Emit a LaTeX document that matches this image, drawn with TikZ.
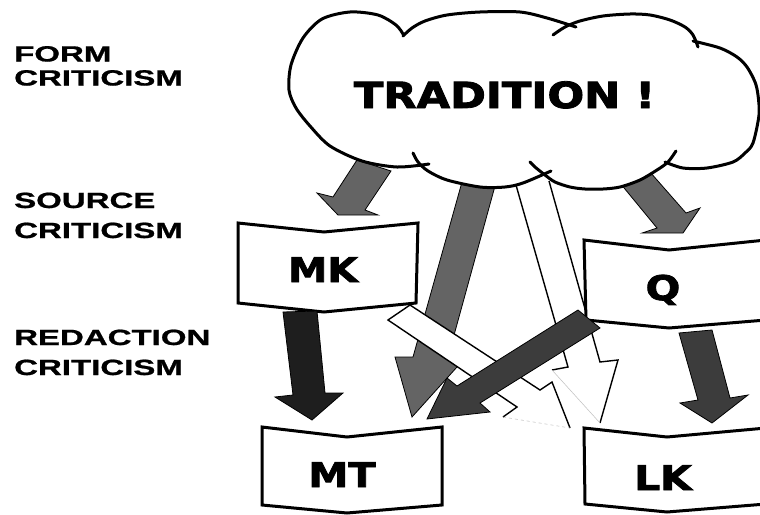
\documentclass[tikz,border=0pt]{standalone}
\usepackage{fontspec}
\usepackage{graphicx}
\newfontfamily\bigfont{DejaVu Sans Bold}[FakeBold=2.2]
\newfontfamily\labfont{Liberation Sans Bold}[FakeBold=0.8]
\definecolor{arrgray}{HTML}{646464}
\definecolor{arrdark}{HTML}{3C3C3C}
\definecolor{arrblack}{HTML}{1E1E1E}
\tikzset{
  cloudline/.style={line width=3pt, line cap=round, line join=round},
  boxline/.style={draw=black, fill=white, line width=3pt, line join=miter},
  grayarrow/.style={fill=arrgray, draw=black, line width=0.8pt, line join=miter},
  darkarrow/.style={fill=arrdark, draw=black, line width=0.8pt, line join=miter},
  blackarrow/.style={fill=arrblack, draw=black, line width=0.8pt, line join=miter},
  whitearrow/.style={fill=white, draw=black, line width=1.4pt, line join=miter},
  faintedge/.style={draw=black!25, line width=0.5pt},
  bigtext/.style={inner sep=0pt, anchor=base, font=\bigfont\fontsize{34}{40}\selectfont},
  titletext/.style={inner sep=0pt, anchor=base, font=\bigfont\fontsize{36}{42}\selectfont},
  labtext/.style={inner sep=0pt, anchor=base west, font=\labfont\fontsize{22}{26}\selectfont}
}
\begin{document}
\begin{tikzpicture}[x=1pt,y=-1pt]
\useasboundingbox (0,0) rectangle (760,514);
\clip (0,0) rectangle (760,514);
\fill[white] (0,0) rectangle (760,514);

% arrows leaving the cloud (drawn first, tops hidden by cloud)
\draw[grayarrow] (357,160) -- (391,171) -- (365,210) -- (378,215) -- (338,215) -- (317,193) -- (333,197) -- cycle;
\draw[grayarrow] (620,183) -- (650,172) -- (686,213) -- (700,208) -- (683,233) -- (642,233) -- (657,228) -- cycle;
\draw[grayarrow] (462,182) -- (495,186) -- (448,357) -- (466,357) -- (412,417) -- (395,357) -- (413,357) -- cycle;
% long white arrow cloud -> LK
\fill[white] (516,185) -- (549,181) -- (600,362) -- (618,360) -- (600,423) -- (552,370) -- (568,367) -- cycle;
\draw[whitearrow, fill=none] (600,423) -- (618,360) -- (600,362) -- (549,181);
\draw[whitearrow, fill=none] (516,185) -- (568,367) -- (552,370);
\draw[faintedge] (552,370) -- (600,423);

% cloud
\fill[white] plot[smooth cycle] coordinates {(403,34) (425,21) (447,15) (480,12) (520,12) (547,18) (570,24) (603,16) (630,14) (650,15) (670,20) (685,27) (695,40) (720,48) (747,67) (758,95) (759,115) (753,143) (733,162) (707,168) (683,168) (665,166) (640,180) (603,189) (570,187) (547,177) (523,183) (480,187) (447,180) (424,166) (397,167) (362,161) (330,146) (310,126) (296,108) (289,90) (291,65) (303,38) (322,19) (350,12) (378,15)};
\draw[cloudline] plot[smooth] coordinates {(403,34) (396,25) (378,15) (350,12) (322,19) (303,38) (291,65) (289,90) (296,108) (310,126) (330,146) (362,161) (397,167) (429,164)};
\draw[cloudline] plot[smooth] coordinates {(403,36) (412,28) (425,21) (447,15) (480,12) (520,12) (547,18) (576,27)};
\draw[cloudline] plot[smooth] coordinates {(553,35) (565,27) (580,21) (603,16) (630,14) (650,15) (670,20) (685,27) (693,35) (698,47)};
\draw[cloudline] plot[smooth] coordinates {(693,41) (720,48) (737,57) (747,67) (755,82) (758,95) (759,115) (753,143) (745,153) (733,162) (707,168) (683,168) (665,162)};
\draw[cloudline] plot[smooth] coordinates {(676,151) (668,162) (657,170) (640,180) (620,187) (603,189) (585,189) (570,187) (555,182) (545,175) (535,167) (530,162)};
\draw[cloudline] plot[smooth] coordinates {(413,153) (418,162) (428,171) (447,180) (480,187) (505,187) (523,183) (551,171)};
\node[titletext] (trad) at (504.5,108) {\scalebox{1.2}[1]{TRADITION !}};

% boxes
\draw[boxline] (238,223) -- (324,232) -- (418,223) -- (416,303) -- (324,312) -- (238,303) -- cycle;
\node[bigtext] (mk) at (323,282) {\scalebox{1.16}[1]{MK}};
\draw[boxline] (584,240) -- (669,250) -- (766,240) -- (766,320) -- (669,328) -- (586,320) -- cycle;
\node[bigtext] (q) at (663,300) {\scalebox{1.2}[1]{Q}};
\draw[boxline] (262,427) -- (347,437) -- (442,427) -- (442,505) -- (347,513) -- (262,505) -- cycle;
\node[bigtext] (mt) at (342,487) {\scalebox{1.18}[1]{MT}};
\draw[boxline] (584,428) -- (667,437) -- (766,428) -- (766,504) -- (667,512) -- (585,504) -- cycle;
\node[bigtext] (lk) at (663,490) {\scalebox{1.2}[1]{LK}};

% arrows between the boxes
\draw[blackarrow] (283,312) -- (317,311) -- (325,393) -- (343,393) -- (312,420) -- (275,397) -- (293,395) -- cycle;
\draw[darkarrow] (679,333) -- (712,330) -- (730,398) -- (748,395) -- (712,423) -- (680,403) -- (698,400) -- cycle;
% white arrow MK -> LK
\fill[white] (388,320) -- (410,305) -- (540,390) -- (552,382) -- (570,428) -- (503,417) -- (517,407) -- cycle;
\draw[whitearrow, fill=none] (503,417) -- (517,407) -- (388,320) -- (410,305) -- (540,390) -- (552,382) -- (570,428);
\draw[faintedge, dashed] (503,417) -- (570,428);
% dark arrow Q -> MT
\draw[darkarrow] (578,310) -- (600,328) -- (480,403) -- (490,412) -- (427,419) -- (447,378) -- (457,386) -- cycle;

% left labels
\node[labtext] (form1) at (14,61.5) {\scalebox{1.5}[1]{FORM}};
\node[labtext] (form2) at (14,85.5) {\scalebox{1.5}[1]{CRITICISM}};
\node[labtext] (src1) at (14,208) {\scalebox{1.5}[1]{SOURCE}};
\node[labtext] (src2) at (14,238) {\scalebox{1.5}[1]{CRITICISM}};
\node[labtext] (red1) at (14,345) {\scalebox{1.5}[1]{REDACTION}};
\node[labtext] (red2) at (14,375) {\scalebox{1.5}[1]{CRITICISM}};
\end{tikzpicture}
\end{document}
